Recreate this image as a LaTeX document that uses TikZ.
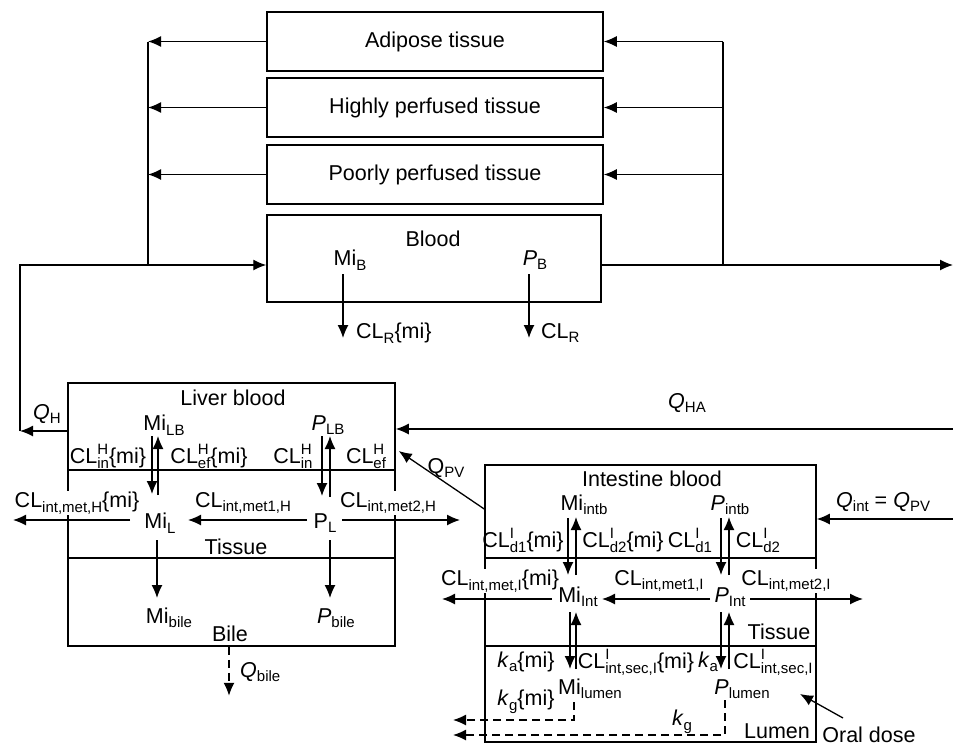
\documentclass[tikz,border=0pt]{standalone}
\usepackage{fontspec}
\setmainfont{Liberation Sans}
\usetikzlibrary{arrows.meta}
\newcommand{\sbf}{\fontsize{15}{15}\selectfont}
\newcommand{\dn}[1]{\raisebox{-4.5pt}{\sbf #1}}
\newcommand{\ud}[2]{\setbox0\hbox{\raisebox{9.5pt}{\sbf #1}}\setbox2\hbox{\raisebox{-4.5pt}{\sbf #2}}\ifdim\wd0>\wd2 \rlap{\box2}\box0 \else\rlap{\box0}\box2 \fi}
\begin{document}
\begin{tikzpicture}[x=1pt,y=-1pt,
  every node/.style={font=\fontsize{21.5}{23}\selectfont, inner sep=0pt},
  box/.style={draw, line width=1.5pt, inner sep=0pt},
  arr/.style={line width=1.3pt, -{Latex[length=13pt,width=11pt]}},
  ln/.style={line width=1.3pt},
  dv/.style={line width=2.4pt},
  dsh/.style={arr, dash pattern=on 8pt off 5pt},
  wt/.style={fill=white, inner sep=1pt}]
\useasboundingbox[fill=white] (0,0) rectangle (953,748);

% ---------- top boxes ----------
\node[box, minimum width=336pt, minimum height=59pt] (adip) at (435,41.5) {Adipose tissue};
\node[box, minimum width=336pt, minimum height=59pt] (high) at (435,107.5) {Highly perfused tissue};
\node[box, minimum width=336pt, minimum height=59pt] (poor) at (435,174.5) {Poorly perfused tissue};
\node[box, minimum width=334pt, minimum height=87pt] (blood) at (434,258.5) {};
\node (bloodt) at (433,239) {Blood};
\node (MiB) at (350,260) {Mi\dn{B}};
\node (PB) at (535,260) {\textit{P}\dn{B}};
\node[anchor=west] (CLRmi) at (356,333) {CL\dn{R}\{mi\}};
\node[anchor=west] (CLR) at (541,333) {CL\dn{R}};

\coordinate (Lt) at (148,41.5);
\coordinate (Lb) at (148,265);
\coordinate (Rt) at (723,41.5);
\coordinate (Rb) at (723,265);
\coordinate (QHe) at (20,431);
\coordinate (Rend) at (953,265);

\draw[arr] (adip.west) -- (adip.west -| Lt);
\draw[arr] (high.west) -- (high.west -| Lt);
\draw[arr] (poor.west) -- (poor.west -| Lt);
\draw[ln] (Lt) -- (Lb);
\draw[arr] (Rt) -- (adip.east);
\draw[arr] (high.east -| Rt) -- (high.east);
\draw[arr] (poor.east -| Rt) -- (poor.east);
\draw[ln] (Rt) -- (Rb);
\draw[arr] (QHe) |- ([yshift=-6.5pt]blood.west);
\draw[arr] ([yshift=-6.5pt]blood.east) -- (Rend);
\draw[arr] ([shift={(-7,14)}]MiB.center) -- ([shift={(-7,78)}]MiB.center);
\draw[arr] ([shift={(-6,14)}]PB.center) -- ([shift={(-6,78)}]PB.center);

% ---------- liver ----------
\node[box, minimum width=327pt, minimum height=263pt] (liver) at (231.5,514.5) {};
\draw[dv] (liver.west |- 0,470) -- (liver.east |- 0,470);
\draw[dv] (liver.west |- 0,558) -- (liver.east |- 0,558);

\node (LB) at (233,398) {Liver blood};
\node (MiLB) at (164,425) {Mi\dn{LB}};
\node (PLB) at (328,425) {\textit{P}\dn{LB}};
\node (CLinmi) at (108,456) {CL\ud{H}{in}\{mi\}};
\node (CLefmi) at (209,456) {CL\ud{H}{ef}\{mi\}};
\node (CLin) at (293,456) {CL\ud{H}{in}};
\node (CLef) at (366,456) {CL\ud{H}{ef}};
\node[wt] (CLmetHmi) at (77,503) {CL\dn{int,met,H}\{mi\}};
\node (CLmet1H) at (243,503) {CL\dn{int,met1,H}};
\node[wt] (CLmet2H) at (388,503) {CL\dn{int,met2,H}};
\node (MiL) at (160,523) {Mi\dn{L}};
\node (PL) at (325,523) {P\dn{L}};
\node (Tis1) at (236,547) {Tissue};
\node (Mibile) at (169,618) {Mi\dn{bile}};
\node (Pbile) at (336,618) {\textit{P}\dn{bile}};
\node (Bile) at (230,634) {Bile};
\node (QH) at (47,414) {\textit{Q}\dn{H}};
\node[anchor=west] (Qbile) at (240,672) {\textit{Q}\dn{bile}};

\draw[arr] ([shift={(-12,11)}]MiLB.center) -- ([shift={(-8,-29)}]MiL.center);
\draw[arr] ([shift={(-2,-28)}]MiL.center) -- ([shift={(-6,11)}]MiLB.center);
\draw[arr] ([shift={(-6,11)}]PLB.center) -- ([shift={(-3,-27)}]PL.center);
\draw[arr] ([shift={(5,-26)}]PL.center) -- ([shift={(2,11)}]PLB.center);
\draw[arr] ([shift={(-30,-3)}]MiL.center) -- ([shift={(-147,-3)}]MiL.center);
\draw[arr] ([shift={(-18,-3)}]PL.center) -- ([shift={(28,-3)}]MiL.center);
\draw[arr] ([shift={(17,-3)}]PL.center) -- ([shift={(135,-3)}]PL.center);
\draw[arr] ([shift={(-3,17)}]MiL.center) -- ([shift={(-12,-20)}]Mibile.center);
\draw[arr] ([shift={(5,17)}]PL.center) -- ([shift={(-6,-20)}]Pbile.center);
\draw[arr] (liver.west |- QHe) -- (QHe);
\draw[dsh] ([xshift=-2.5pt]liver.south) -- ++(0,49);

% ---------- flows between ----------
\coordinate (QHAs) at (953,429);
\coordinate (Qis) at (953,519);
\node (QHA) at (687,403) {\textit{Q}\dn{HA}};
\node (QPV) at (446,468) {Q\dn{PV}};
\draw[arr] (QHAs) -- (QHAs -| liver.east);

% ---------- intestine ----------
\node[box, minimum width=331pt, minimum height=277pt] (intes) at (650.5,603.5) {};
\draw[dv] (intes.west |- 0,558) -- (intes.east |- 0,558);
\draw[dv] (intes.west |- 0,646) -- (intes.east |- 0,646);
\draw[arr] (intes.west |- 0,509) -- ([shift={(3,-63.5)}]liver.east);
\draw[arr] (Qis) -- (Qis -| intes.east);

\node (IB) at (652,479) {Intestine blood};
\node (Miintb) at (584,505) {Mi\dn{intb}};
\node (Pintb) at (730,505) {\textit{P}\dn{intb}};
\node (CLd1mi) at (523,540) {CL\ud{I}{d1}\{mi\}};
\node (CLd2mi) at (623,540) {CL\ud{I}{d2}\{mi\}};
\node (CLd1) at (690,540) {CL\ud{I}{d1}};
\node (CLd2) at (758,540) {CL\ud{I}{d2}};
\node[anchor=west] (Qint) at (836,502) {\textit{Q}\dn{int} = \textit{Q}\dn{PV}};
\node[wt] (CLmetImi) at (500,581) {CL\dn{int,met,I}\{mi\}};
\node (CLmet1I) at (659,581) {CL\dn{int,met1,I}};
\node[wt] (CLmet2I) at (786,581) {CL\dn{int,met2,I}};
\node (MiInt) at (578,597) {Mi\dn{Int}};
\node (PInt) at (730,597) {\textit{P}\dn{Int}};
\node (Tis2) at (779,632) {Tissue};
\node (kami) at (526,662) {\textit{k}\dn{a}\{mi\}};
\node (CLsecmi) at (636,662) {CL\ud{I}{int,sec,I}\{mi\}};
\node (ka) at (708,662) {\textit{k}\dn{a}};
\node (CLsec) at (773,662) {CL\ud{I}{int,sec,I}};
\node (Milumen) at (590,689) {Mi\dn{lumen}};
\node (Plumen) at (742,689) {\textit{P}\dn{lumen}};
\node (kgmi) at (526,702) {\textit{k}\dn{g}\{mi\}};
\node (kg) at (682,722) {\textit{k}\dn{g}};
\node (Lumen) at (777,731) {Lumen};
\node (oral) at (869,735) {Oral dose};
\coordinate (kge1) at (453,720);
\coordinate (kge2) at (453,735);

\draw[arr] ([shift={(-16,13)}]Miintb.center) -- ([shift={(-10,-22)}]MiInt.center);
\draw[arr] ([shift={(-2,-22)}]MiInt.center) -- ([shift={(-8,12)}]Miintb.center);
\draw[arr] ([shift={(-9,13)}]Pintb.center) -- ([shift={(-9,-22)}]PInt.center);
\draw[arr] ([shift={(-1,-22)}]PInt.center) -- ([shift={(-1,12)}]Pintb.center);
\draw[arr] ([shift={(-26,2)}]MiInt.center) -- ([shift={(-136,2)}]MiInt.center);
\draw[arr] ([shift={(-20,2)}]PInt.center) -- ([shift={(24,2)}]MiInt.center);
\draw[arr] ([shift={(20,2)}]PInt.center) -- ([shift={(133,2)}]PInt.center);
\draw[arr] ([shift={(-8,15)}]MiInt.center) -- ([shift={(-20,-20)}]Milumen.center);
\draw[arr] ([shift={(-14,-20)}]Milumen.center) -- ([shift={(-2,15)}]MiInt.center);
\draw[arr] ([shift={(-9,15)}]PInt.center) -- ([shift={(-21,-20)}]Plumen.center);
\draw[arr] ([shift={(-13,-20)}]Plumen.center) -- ([shift={(-1,15)}]PInt.center);
\draw[dsh] ([shift={(-16,13)}]Milumen.center) |- (kge1);
\draw[dsh] ([shift={(-17,11)}]Plumen.center) |- (kge2);
\draw[arr] ([shift={(-26,-17)}]oral.center) -- ([shift={(-69,-41)}]oral.center);
\end{tikzpicture}
\end{document}
